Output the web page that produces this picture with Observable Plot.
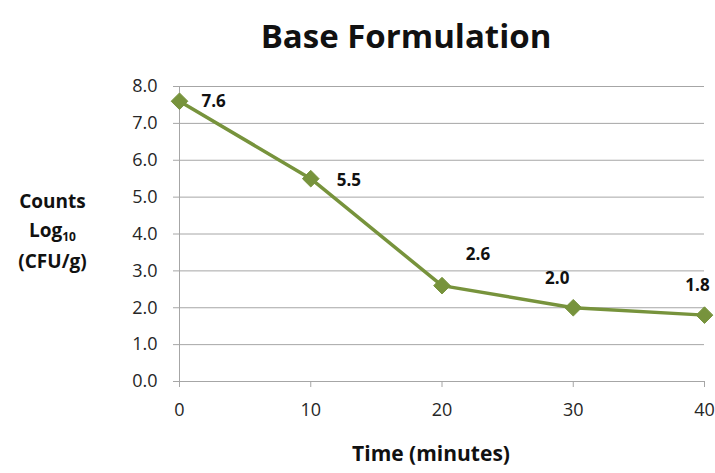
<!DOCTYPE html>
<html>
<head>
<meta charset="utf-8">
<script src="https://cdn.jsdelivr.net/npm/d3@7"></script>
<script src="https://cdn.jsdelivr.net/npm/@observablehq/plot@0.6"></script>
<style>
  html, body { margin: 0; padding: 0; background: #fff; }
  svg { display: block; }
</style>
</head>
<body>
<div id="chart"></div>
<script>
// Time points (minutes) and log counts
const times = [0, 10, 20, 30, 40];
const counts = [7.6, 5.5, 2.6, 2.0, 1.8];
const yTicks = [0, 1, 2, 3, 4, 5, 6, 7, 8];
const xTicks = [0, 10, 20, 30, 40];

// Per-point data label placement (offsets in px)
const labelDx = [22, 26, 36, -16, -7];
const labelDy = [0, 2, -31, -29, -30];
const labelAnchor = ["start", "start", "middle", "middle", "middle"];

const data = times.map((t, i) => ({
  t, v: counts[i], dx: labelDx[i], dy: labelDy[i], anchor: labelAnchor[i]
}));

const green = "#77933C";
const font = "'Open Sans', 'DejaVu Sans', sans-serif";

const plot = Plot.plot({
  width: 715,
  height: 473,
  marginTop: 86,
  marginBottom: 92,
  marginLeft: 179,
  marginRight: 11,
  style: { fontFamily: font, fontSize: "18px", color: "#262626", background: "#fff", overflow: "visible" },
  x: { domain: [0, 40] },
  y: { domain: [0, 8] },
  marks: [
    Plot.gridY(yTicks, { stroke: "#a6a6a6", strokeOpacity: 1, strokeWidth: 1 }),
    Plot.ruleX([0], { stroke: "#a6a6a6", strokeWidth: 1 }),
    Plot.axisY(yTicks, {
      tickFormat: d => d.toFixed(1), tickSize: 6, tickPadding: 16,
      stroke: "#a6a6a6", label: null, fontSize: 18
    }),
    Plot.axisX(xTicks, {
      tickSize: 6, tickPadding: 16, stroke: "#a6a6a6", label: null, fontSize: 18
    }),
    Plot.line(data, { x: "t", y: "v", stroke: green, strokeWidth: 3.5 }),
    Plot.dot(data, { x: "t", y: "v", symbol: "diamond2", r: 7.5, fill: green, stroke: green, strokeWidth: 1 }),
    ...data.map(d => Plot.text([d], {
      x: "t", y: "v", text: e => e.v.toFixed(1),
      dx: d.dx, dy: d.dy, textAnchor: d.anchor,
      fontWeight: "bold", fontSize: 17, fill: "#111"
    })),
    // Chart title
    Plot.text(["Base Formulation"], {
      frameAnchor: "top", dx: -36, dy: -62, fontSize: 33, fontWeight: "bold", fill: "#111"
    }),
    // X axis title
    Plot.text(["Time (minutes)"], {
      frameAnchor: "bottom", dx: -11, dy: 79, fontSize: 21, fontWeight: "bold", fill: "#111"
    }),
    // Y axis title, three lines centred on one column
    Plot.text(["Counts"], {
      frameAnchor: "left", textAnchor: "middle", dx: -127, dy: -32, fontSize: 19, fontWeight: "bold", fill: "#111"
    }),
    Plot.text(["Log"], {
      frameAnchor: "left", textAnchor: "middle", dx: -127, dy: -3, fontSize: 19, fontWeight: "bold", fill: "#111", className: "ylog"
    }),
    Plot.text(["(CFU/g)"], {
      frameAnchor: "left", textAnchor: "middle", dx: -127, dy: 28, fontSize: 19, fontWeight: "bold", fill: "#111"
    })
  ]
});

// Add the subscript "10" to the "Log" label
d3.select(plot).selectAll("g.ylog text").each(function() {
  const t = d3.select(this);
  t.append("tspan").attr("font-size", 12).attr("dy", "0.3em").text("10");
});

document.getElementById("chart").appendChild(plot);
</script>
</body>
</html>
